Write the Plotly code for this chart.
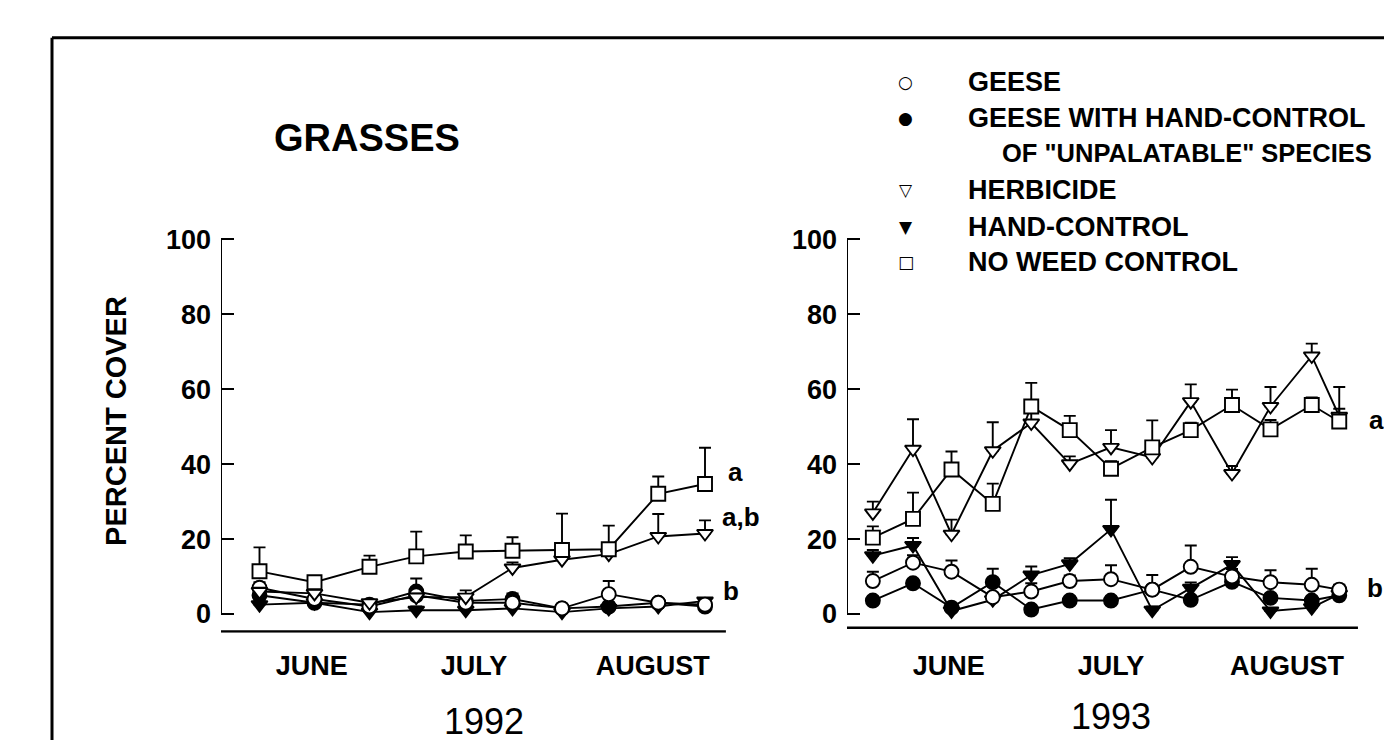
import plotly.graph_objects as go

# sampling dates (day of year) and treatment means / upper SE
days_1992 = [157, 167, 177, 185.5, 194.5, 203, 212, 220.5, 229.5, 238]
days_1993 = [154.7, 162, 169, 176.5, 183.5, 190.5, 198, 205.5, 212.5, 220, 227, 234.5, 239.5]

geese_1992 = [7, 4, 2, 5, 3, 3, 1.5, 5.3, 3, 2.5]
geese_1992_se = [1.5, 1, 1, 2, 1, 1, 1, 3.5, 1, 1]
geese_hc_1992 = [5, 3, 2.5, 6, 3.5, 4, 1.5, 2, 3, 2]
geese_hc_1992_se = [2, 1, 1, 3.5, 1, 1.5, 0.5, 1, 1, 1]
herbicide_1992 = [6, 5.5, 3, 4.5, 4.5, 12.3, 14.5, 16, 20.7, 21.5]
herbicide_1992_se = [1, 1, 0.5, 1, 1.8, 1.5, 1, 1, 6, 3.5]
hand_1992 = [2.5, 3, 0.5, 1, 1, 1.5, 0.5, 1.5, 2, 3.5]
hand_1992_se = [1, 0.5, 0.5, 1, 0.5, 0.5, 0.5, 0.5, 0.5, 0.5]
noweed_1992 = [11.4, 8.5, 12.6, 15.4, 16.7, 16.9, 17.1, 17.3, 32.1, 34.7]
noweed_1992_se = [6.4, 1, 3, 6.6, 4.3, 3.6, 9.7, 6.3, 4.6, 9.7]

geese_1993 = [8.8, 13.7, 11.3, 4.5, 6, 8.8, 9.3, 6.5, 12.6, 10, 8.5, 7.8, 6.5]
geese_1993_se = [2.5, 2, 3, 1, 2.2, 1.5, 3.7, 1, 5.7, 2, 3.2, 4.3, 1.3]
geese_hc_1993 = [3.6, 8.2, 1.7, 8.5, 1.2, 3.6, 3.6, 6.5, 3.8, 8.6, 4.3, 3.6, 5]
geese_hc_1993_se = [1, 1, 0.5, 3.6, 0.5, 1, 1, 3.9, 1, 1.5, 1, 1, 1]
herbicide_1993 = [27, 44, 21.3, 43.6, 51, 40.1, 44.5, 41.8, 56.7, 37.5, 55.4, 68.9, 52.8]
herbicide_1993_se = [3, 8, 3.9, 7.6, 3, 2, 4.6, 2, 4.6, 2, 5.2, 3.3, 2]
hand_1993 = [15.6, 18.3, 0.8, 3.8, 10.4, 13.4, 22.6, 1, 6.9, 13.2, 0.8, 1.7, 5.3]
hand_1993_se = [1.5, 2, 0.5, 1, 2.3, 1.5, 7.9, 1, 1.5, 2, 0.5, 0.5, 1]
noweed_1993 = [20.4, 25.4, 38.6, 29.4, 55.4, 49.1, 38.8, 44.5, 49.1, 55.8, 49.3, 55.8, 51.4]
noweed_1993_se = [3, 7, 4.8, 5.4, 6.3, 3.8, 2, 7.2, 2, 4.1, 2.5, 2, 9.2]

month_days_1992 = [166.5, 196, 228.5]
month_days_1993 = [168.5, 198, 230]
month_labels = ["JUNE", "JULY", "AUGUST"]
y_ticks = [0, 20, 40, 60, 80, 100]

legend_names = ["GEESE", "GEESE WITH HAND-CONTROL", "HERBICIDE", "HAND-CONTROL", "NO WEED CONTROL"]
legend_glyphs = ["\u25cb", "\u25cf", "\u25bd", "\u25bc", "\u25a1"]

# (symbol, fill) per treatment
styles = {
    "geese": ("circle", "white"),
    "geese_hc": ("circle", "black"),
    "herbicide": ("triangle-down", "white"),
    "hand": ("triangle-down", "black"),
    "noweed": ("square", "white"),
}

FONT = "Arial, Liberation Sans, Helvetica, sans-serif"
W, H = 1392, 740
OFF = 8  # page body margin: screen px -> figure px


def px(x):
    return (x - OFF) / W


def py(y):
    return 1 - (y - OFF) / H


fig = go.Figure()

panels = [
    ("x", "y", days_1992, {
        "geese_hc": (geese_hc_1992, geese_hc_1992_se),
        "hand": (hand_1992, hand_1992_se),
        "geese": (geese_1992, geese_1992_se),
        "herbicide": (herbicide_1992, herbicide_1992_se),
        "noweed": (noweed_1992, noweed_1992_se),
    }),
    ("x2", "y2", days_1993, {
        "geese_hc": (geese_hc_1993, geese_hc_1993_se),
        "hand": (hand_1993, hand_1993_se),
        "geese": (geese_1993, geese_1993_se),
        "herbicide": (herbicide_1993, herbicide_1993_se),
        "noweed": (noweed_1993, noweed_1993_se),
    }),
]

for xa, ya, days, series in panels:
    for key, (vals, se) in series.items():
        sym, fill = styles[key]
        fig.add_trace(go.Scatter(
            x=days, y=vals, xaxis=xa, yaxis=ya, mode="lines+markers",
            line=dict(color="black", width=1.9),
            marker=dict(symbol=sym, size=14, color=fill, line=dict(color="black", width=1.9)),
            error_y=dict(type="data", symmetric=False, array=se, arrayminus=[0] * len(se),
                         color="black", thickness=1.9, width=6),
            showlegend=False, cliponaxis=False))

ydom = [py(631), py(228)]
yax = dict(range=[-5, 101], tickvals=y_ticks, ticks="inside", ticklen=13, tickwidth=2,
           tickcolor="black", showgrid=False, zeroline=False, showline=False,
           tickfont=dict(family=FONT, size=27, color="black", weight="bold"), ticklabelstandoff=9,
           domain=ydom)
xax = dict(ticks="", showgrid=False, zeroline=False, showline=False, ticklabelstandoff=14,
           tickfont=dict(family=FONT, size=27, color="black", weight="bold"))

fig.update_layout(
    width=W, height=H, margin=dict(l=0, r=0, t=0, b=0),
    paper_bgcolor="white", plot_bgcolor="white",
    xaxis=dict(xax, range=[150, 250], domain=[px(221), px(771)], anchor="y",
               tickvals=month_days_1992, ticktext=month_labels),
    yaxis=dict(yax, anchor="x"),
    xaxis2=dict(xax, range=[150, 248], domain=[px(847), px(1386)], anchor="y2",
                tickvals=month_days_1993, ticktext=month_labels),
    yaxis2=dict(yax, anchor="x2"),
)

# axis lines: y axis from 0 to 100, detached baseline under each panel
for xr, yr, base_y, base_end in [("x", "y", -4.7, 241.8), ("x2", "y2", -3.7, 242.9)]:
    fig.add_shape(type="line", xref=xr, yref=yr, x0=150, x1=150, y0=0, y1=100,
                  line=dict(color="black", width=2))
    fig.add_shape(type="line", xref=xr, yref=yr, x0=149.5, x1=base_end, y0=base_y, y1=base_y,
                  line=dict(color="black", width=2.5))

# frame (top and left edges)
fig.add_shape(type="line", xref="paper", yref="paper", x0=px(52), x1=1.01, y0=py(27), y1=py(27),
              line=dict(color="black", width=3))
fig.add_shape(type="line", xref="paper", yref="paper", x0=px(52), x1=px(52), y0=py(27), y1=-0.01,
              line=dict(color="black", width=3))


def txt(text, x, y, size, xanchor="center", xref="paper", yref="paper", angle=0,
        family=FONT, weight="bold"):
    fig.add_annotation(text=text, x=x, y=y, xref=xref, yref=yref, showarrow=False,
                       xanchor=xanchor, yanchor="middle", textangle=angle,
                       font=dict(family=family, size=size, color="black", weight=weight),
                       align="left")


txt("GRASSES", px(272), py(129), 38, xanchor="left")
txt("PERCENT COVER", px(116), py(416), 29, angle=-90)
txt("1992", px(484), py(721), 36, weight="normal")
txt("1993", px(1111), py(716), 36, weight="normal")

# significance letters
txt("a", 243.5, 38, 26, xref="x", yref="y")
txt("a,b", 240.7, 26, 26, xanchor="left", xref="x", yref="y")
txt("b", 242.8, 6.2, 26, xref="x", yref="y")
txt("a", 246.3, 51.9, 26, xref="x2", yref="y2")
txt("b", 246.0, 6.9, 26, xref="x2", yref="y2")

# legend
legend_rows = [72, 108, 182, 219, 255]
for glyph, name, row in zip(legend_glyphs, legend_names, legend_rows):
    txt(glyph, px(906), py(row), 17, family="DejaVu Sans")
    txt(name, px(966), py(row), 27, xanchor="left")
txt("OF \"UNPALATABLE\" SPECIES", px(1000), py(144), 25.5, xanchor="left")

fig.write_html("out.html")
